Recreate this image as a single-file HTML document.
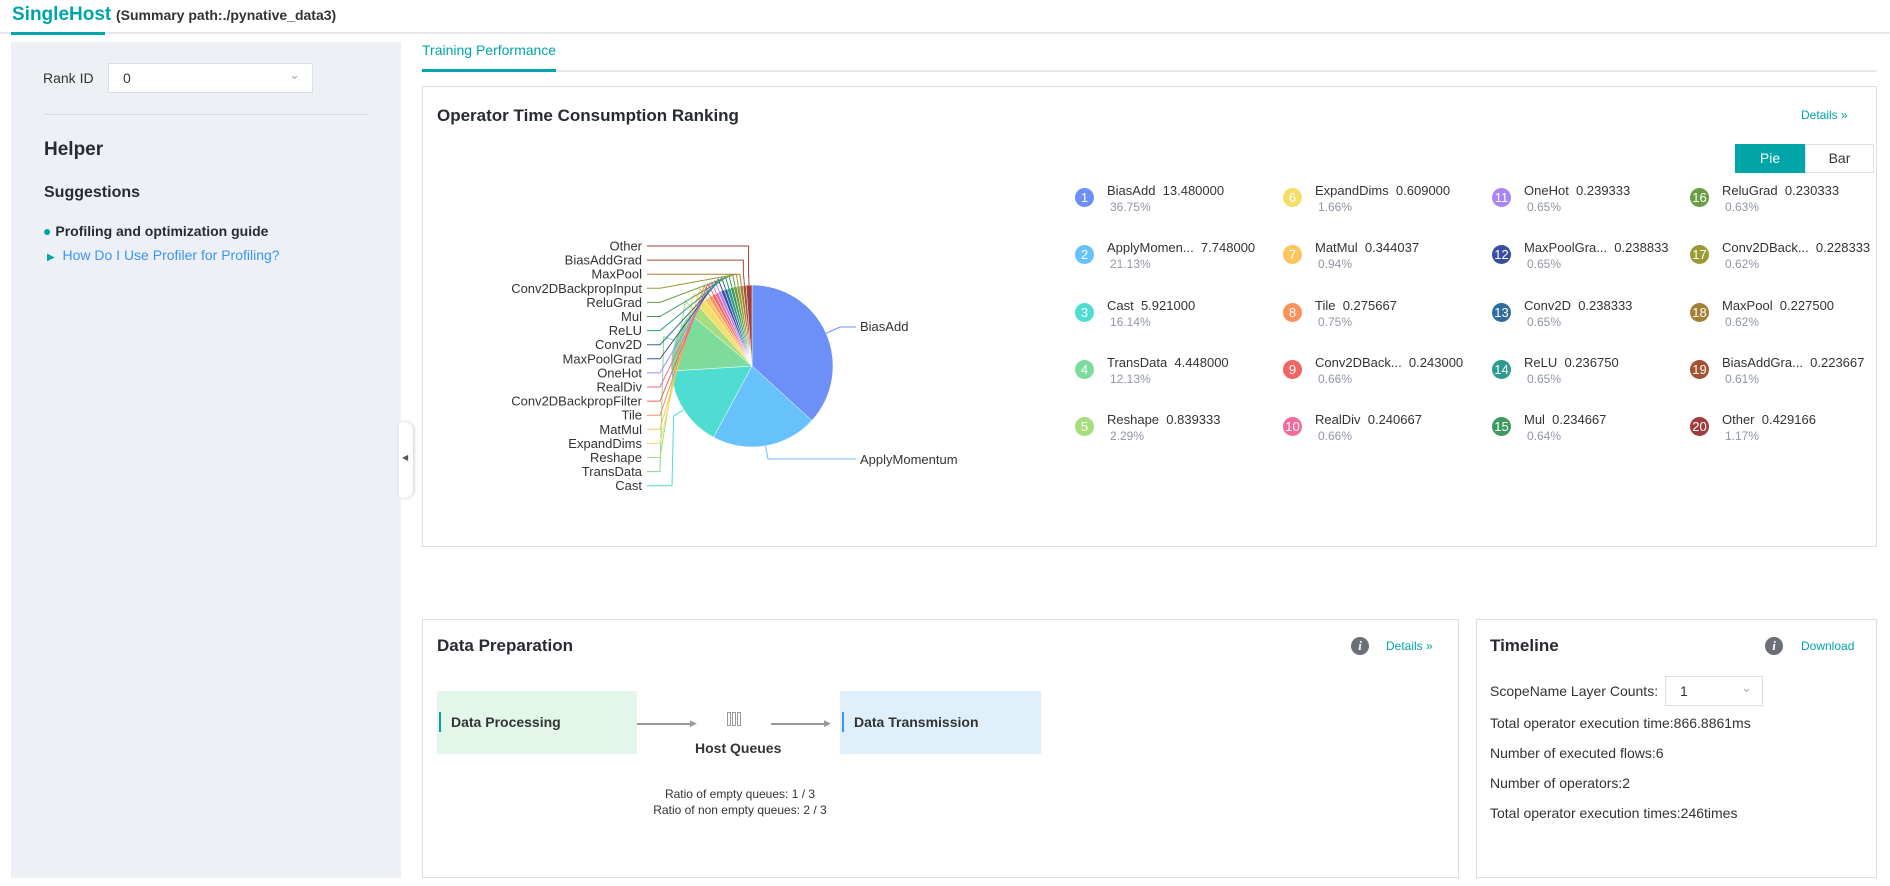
<!DOCTYPE html>
<html><head><meta charset="utf-8"><style>
*{margin:0;padding:0;box-sizing:border-box}
body{width:1890px;height:886px;background:#fff;font-family:"Liberation Sans",sans-serif;position:relative;overflow:hidden;color:#333}
.a{position:absolute;white-space:nowrap}
.panel{position:absolute;border:1px solid #ddd;background:#fff}
.t{font-weight:bold;font-size:17px;color:#282b33}
.lg{position:absolute;font-size:13px;color:#333;white-space:nowrap}
.lg .c{position:absolute;left:0;top:0;width:19px;height:19px;border-radius:50%;color:#fff;font-size:13px;text-align:center;line-height:19px}
.lg .n{position:absolute;left:32px;top:-5px;white-space:nowrap}
.lg .p{position:absolute;left:35px;top:12px;color:#8f96a3;font-size:12px;white-space:nowrap}
.teal{color:#00a5a7}
</style></head><body>
<div class="a" style="left:12px;top:4px;font-size:19px;font-weight:bold;color:#00a5a7">SingleHost</div>
<div class="a" style="left:116px;top:7px;font-size:14px;font-weight:bold;color:#333">(Summary path:./pynative_data3)</div>
<div class="a" style="left:0;top:32px;width:1890px;height:2px;background:#e6e8ec"></div>
<div class="a" style="left:11px;top:32px;width:94px;height:3px;background:#00a5a7"></div>

<div class="a" style="left:11px;top:42px;width:390px;height:836px;background:#edf0f5"></div>
<div class="a" style="left:43px;top:70px;font-size:14px">Rank ID</div>
<div class="a" style="left:108px;top:63px;width:205px;height:30px;background:#fff;border:1px solid #dcdfe6"><span class="a" style="left:14px;top:6px;font-size:14px">0</span><span class="a" style="right:12px;top:3px;color:#aaa;font-size:13px">&#8964;</span></div>
<div class="a" style="left:44px;top:114px;width:324px;height:1px;background:#d8dbe0"></div>
<div class="a" style="left:44px;top:139px;font-size:19px;font-weight:bold;color:#282b33">Helper</div>
<div class="a" style="left:44px;top:184px;font-size:16px;font-weight:bold;color:#282b33">Suggestions</div>
<div class="a" style="left:43px;top:223px;font-size:14px;font-weight:bold;color:#282b33"><span style="color:#00a5a7">&#9679;</span> Profiling and optimization guide</div>
<div class="a" style="left:47px;top:247px;font-size:14px;color:#3a96f3"><span style="color:#00a5a7;font-size:10px">&#9654;</span>&nbsp; How Do I Use Profiler for Profiling?</div>
<div class="a" style="left:399px;top:422px;width:14px;height:76px;background:#fff;border-radius:0 8px 8px 0;box-shadow:1px 0 3px #ccc"><span class="a" style="left:3px;top:31px;font-size:8px;color:#555">&#9664;</span></div>

<div class="a teal" style="left:422px;top:42px;font-size:14px">Training Performance</div>
<div class="a" style="left:422px;top:70px;width:1455px;height:2px;background:#e6e8ec"></div>
<div class="a" style="left:422px;top:69px;width:134px;height:3px;background:#00a5a7"></div>

<div class="panel" style="left:422px;top:86px;width:1455px;height:461px"></div>
<div class="a t" style="left:437px;top:106px">Operator Time Consumption Ranking</div>
<div class="a teal" style="left:1801px;top:108px;font-size:12px">Details &#187;</div>
<div class="a" style="left:1735px;top:144px;width:70px;height:29px;background:#00a5a7;color:#fff;font-size:14px;text-align:center;line-height:29px">Pie</div>
<div class="a" style="left:1805px;top:144px;width:69px;height:29px;border:1px solid #dcdfe6;font-size:14px;text-align:center;line-height:27px">Bar</div>
<svg class="a" id="pie" style="left:0;top:0" width="1890" height="886"></svg>
<div id="leg"></div>

<div class="panel" style="left:422px;top:619px;width:1037px;height:259px"></div>
<div class="a t" style="left:437px;top:636px">Data Preparation</div>
<div class="a" style="left:1351px;top:637px;width:18px;height:18px;border-radius:50%;background:#6b6f78;color:#fff;font:italic bold 13px 'Liberation Serif',serif;text-align:center;line-height:18px">i</div>
<div class="a teal" style="left:1386px;top:639px;font-size:12px">Details &#187;</div>
<div class="a" style="left:437px;top:691px;width:200px;height:63px;background:#e3f6ea"></div>
<div class="a" style="left:439px;top:712px;width:2px;height:20px;background:#00a5a7"></div>
<div class="a" style="left:451px;top:714px;font-size:14px;font-weight:bold">Data Processing</div>
<div class="a" style="left:637px;top:723px;width:56px;height:2px;background:#999"></div><div class="a" style="left:690px;top:718px;color:#999;font-size:9px">&#9654;</div>
<div class="a" style="left:727px;top:712px;width:4px;height:14px;border:1px solid #999"></div>
<div class="a" style="left:732px;top:712px;width:4px;height:14px;border:1px solid #999"></div>
<div class="a" style="left:737px;top:712px;width:4px;height:14px;border:1px solid #999"></div>
<div class="a" style="left:695px;top:740px;font-size:14px;font-weight:bold">Host Queues</div>
<div class="a" style="left:771px;top:723px;width:56px;height:2px;background:#999"></div><div class="a" style="left:824px;top:718px;color:#999;font-size:9px">&#9654;</div>
<div class="a" style="left:840px;top:691px;width:201px;height:63px;background:#e0f0fb"></div>
<div class="a" style="left:842px;top:712px;width:2px;height:20px;background:#3a96f3"></div>
<div class="a" style="left:854px;top:714px;font-size:14px;font-weight:bold">Data Transmission</div>
<div class="a" style="left:651px;top:787px;width:178px;text-align:center;font-size:12px">Ratio of empty queues: 1 / 3</div>
<div class="a" style="left:651px;top:803px;width:178px;text-align:center;font-size:12px">Ratio of non empty queues: 2 / 3</div>

<div class="panel" style="left:1476px;top:619px;width:401px;height:259px"></div>
<div class="a t" style="left:1490px;top:636px">Timeline</div>
<div class="a" style="left:1765px;top:637px;width:18px;height:18px;border-radius:50%;background:#6b6f78;color:#fff;font:italic bold 13px 'Liberation Serif',serif;text-align:center;line-height:18px">i</div>
<div class="a teal" style="left:1801px;top:639px;font-size:12px">Download</div>
<div class="a" style="left:1490px;top:683px;font-size:14px">ScopeName Layer Counts:</div>
<div class="a" style="left:1665px;top:676px;width:98px;height:30px;border:1px solid #dcdfe6"><span class="a" style="left:14px;top:6px;font-size:14px">1</span><span class="a" style="right:10px;top:3px;color:#aaa;font-size:13px">&#8964;</span></div>
<div class="a" style="left:1490px;top:715px;font-size:14px">Total operator execution time:866.8861ms</div>
<div class="a" style="left:1490px;top:745px;font-size:14px">Number of executed flows:6</div>
<div class="a" style="left:1490px;top:775px;font-size:14px">Number of operators:2</div>
<div class="a" style="left:1490px;top:805px;font-size:14px">Total operator execution times:246times</div>

<script>
var d=[["BiasAdd","13.480000",36.75],["ApplyMomen...","7.748000",21.13],["Cast","5.921000",16.14],["TransData","4.448000",12.13],["Reshape","0.839333",2.29],["ExpandDims","0.609000",1.66],["MatMul","0.344037",0.94],["Tile","0.275667",0.75],["Conv2DBack...","0.243000",0.66],["RealDiv","0.240667",0.66],["OneHot","0.239333",0.65],["MaxPoolGra...","0.238833",0.65],["Conv2D","0.238333",0.65],["ReLU","0.236750",0.65],["Mul","0.234667",0.64],["ReluGrad","0.230333",0.63],["Conv2DBack...","0.228333",0.62],["MaxPool","0.227500",0.62],["BiasAddGra...","0.223667",0.61],["Other","0.429166",1.17]];
var full=["BiasAdd","ApplyMomentum","Cast","TransData","Reshape","ExpandDims","MatMul","Tile","Conv2DBackpropFilter","RealDiv","OneHot","MaxPoolGrad","Conv2D","ReLU","Mul","ReluGrad","Conv2DBackpropInput","MaxPool","BiasAddGrad","Other"];
var col=["#6c8ff8","#67c1fb","#4fddd1","#7ddc9c","#a6dd7d","#f5de68","#fbc560","#f9925b","#f06464","#f2699c","#a984f5","#3a4ea1","#2f6d9c","#2a9b8e","#3e9a5e","#6a9c43","#9b9a35","#a48035","#a2522f","#a23c3c"];
var cx=752,cy=366,r=81,s="",a0=0,tot=0;d.forEach(function(x){tot+=x[2]});
function P(a,rr){return [cx+rr*Math.sin(a),cy-rr*Math.cos(a)]}
d.forEach(function(x,i){var a1=a0+x[2]/tot*2*Math.PI;var p=P(a0,r),q=P(a1,r);
s+='<path d="M'+cx+','+cy+'L'+p[0]+','+p[1]+'A'+r+','+r+' 0 '+((a1-a0)>Math.PI?1:0)+' 1 '+q[0]+','+q[1]+'Z" fill="'+col[i]+'" stroke="#fff" stroke-width="0.5"/>';
var m=(a0+a1)/2,e=P(m,r),k=P(m,r+12);
if(i==0){s+='<polyline fill="none" stroke="'+col[i]+'" points="'+e+' 840,327 856,327"/><text x="860" y="331" font-size="13" fill="#333">BiasAdd</text>';}
else if(i==1){s+='<polyline fill="none" stroke="'+col[i]+'" points="'+e+' 768,459 856,459"/><text x="860" y="464" font-size="13" fill="#333">ApplyMomentum</text>';}
else{var ly=246+(19-i)*14.1;s+='<polyline fill="none" stroke="'+col[i]+'" points="'+e+' '+k+' '+(i>=17?k[0]:(i==2?672:660))+','+ly+' 647,'+ly+'"/><text x="642" y="'+(ly+4.5)+'" font-size="13" text-anchor="end" fill="#333">'+full[i]+'</text>';}
a0=a1;});
document.getElementById('pie').innerHTML=s;
var xs=[1075,1283,1492,1690],ys=[188,245,303,360,417],h="";
d.forEach(function(x,i){var c=Math.floor(i/5),rw=i%5;h+='<div class="lg" style="left:'+xs[c]+'px;top:'+ys[rw]+'px"><div class="c" style="background:'+col[i]+'">'+(i+1)+'</div><div class="n">'+x[0]+'&nbsp; '+x[1]+'</div><div class="p">'+x[2].toFixed(2)+'%</div></div>'});
document.getElementById('leg').innerHTML=h;
</script>
</body></html>
